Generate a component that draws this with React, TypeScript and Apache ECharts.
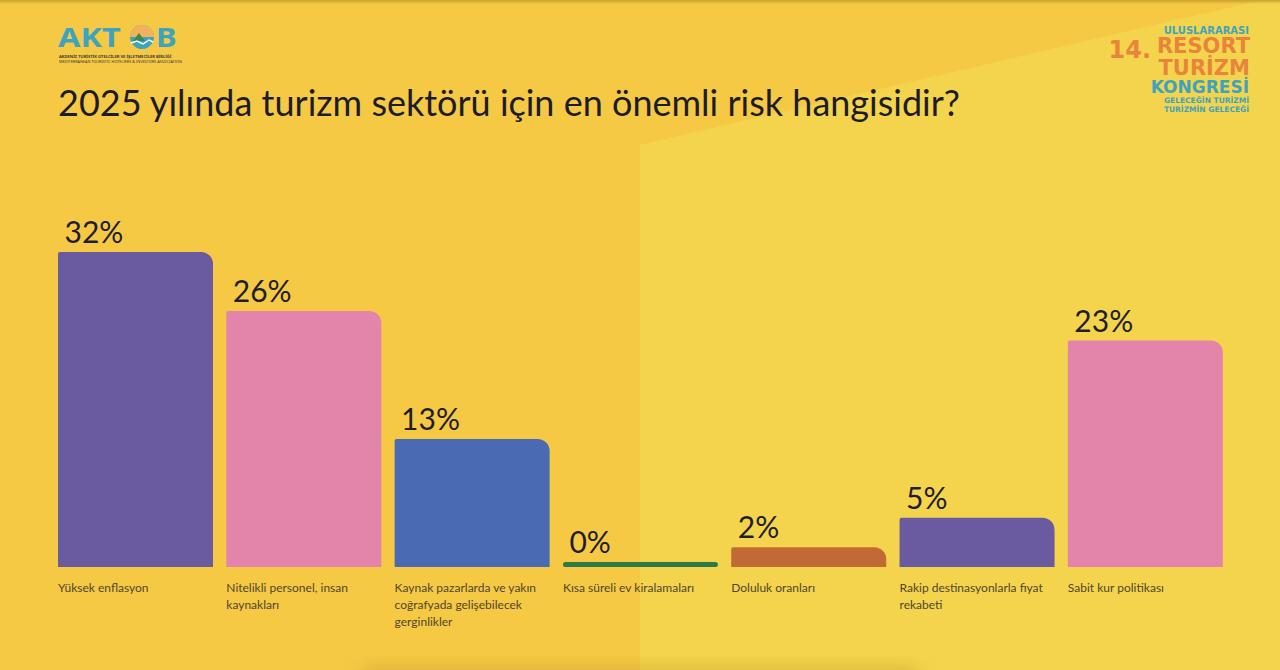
import React, { useEffect, useRef } from "react";
import * as echarts from "echarts";

const title = "2025 yılında turizm sektörü için en önemli risk hangisidir?";
const categories = [
  "Yüksek enflasyon",
  "Nitelikli personel, insan\nkaynakları",
  "Kaynak pazarlarda ve yakın\ncoğrafyada gelişebilecek\ngerginlikler",
  "Kısa süreli ev kiralamaları",
  "Doluluk oranları",
  "Rakip destinasyonlarla fiyat\nrekabeti",
  "Sabit kur politikası",
];
const values = [32, 26, 13, 0, 2, 5, 23];
const barColors = ["#6A5A9F", "#E385AA", "#4A6BB4", "#2E7A47", "#C26A35", "#6A5A9F", "#E385AA"];

const TEAL = "#3EA3BE";
const ORANGE = "#E8843B";
const SANS = "'DejaVu Sans', sans-serif";

export default function App() {
  const ref = useRef<HTMLDivElement>(null);
  useEffect(() => {
    if (!ref.current) return;
    const chart = echarts.init(ref.current, null, { renderer: "svg" });
    const logoText = (text: string, x: number, cy: number, fontSize: number, fill: string, align = "right") => ({
      type: "text",
      x,
      y: cy,
      style: {
        text,
        align,
        verticalAlign: "middle",
        fontSize,
        lineHeight: fontSize * 0.8,
        fontWeight: "bold",
        fill,
        fontFamily: SANS,
      },
    });
    const option: any = {
      animation: false,
      backgroundColor: "#F5C944",
      grid: { left: 51.35, right: 50.5, top: 252, bottom: 103, containLabel: false },
      xAxis: {
        type: "category",
        data: categories,
        axisLine: { show: false },
        axisTick: { show: false },
        axisLabel: {
          interval: 0,
          margin: 12,
          formatter: (v: string) => v.split("\n").map((l) => `{a|${l}}`).join("\n"),
          rich: {
            a: {
              width: 155,
              align: "left",
              fontSize: 12,
              lineHeight: 17,
              color: "#4F4630",
              fontFamily: "Lato, 'Noto Sans', sans-serif",
            },
          },
        },
      },
      yAxis: { type: "value", min: 0, max: 32, show: false, splitLine: { show: false } },
      series: [
        {
          type: "bar",
          silent: true,
          barWidth: 155,
          barMinHeight: 5,
          data: values.map((v, i) => ({
            value: v,
            itemStyle: {
              color: barColors[i],
              borderRadius: v === 0 ? 3 : [2, 12, 0, 0],
            },
          })),
          label: {
            show: true,
            position: "top",
            align: "left",
            offset: [-71, 0],
            distance: 6,
            formatter: "{c}%",
            fontSize: 30,
            color: "#1E1E2E",
            fontFamily: "Lato, 'Noto Sans', sans-serif",
          },
        },
      ],
      graphic: [
        {
          type: "polygon",
          z: -10,
          silent: true,
          shape: { points: [[640, 145], [1262, 0], [1280, 0], [1280, 670], [640, 670]] },
          style: { fill: "#F4D44C" },
        },
        {
          type: "rect",
          z: -9,
          silent: true,
          shape: { x: 0, y: 0, width: 1280, height: 4 },
          style: {
            fill: new echarts.graphic.LinearGradient(0, 0, 0, 1, [
              { offset: 0, color: "rgba(190,150,40,0.8)" },
              { offset: 1, color: "rgba(190,150,40,0)" },
            ]),
          },
        },
        {
          type: "rect",
          z: -9,
          silent: true,
          shape: { x: 360, y: 676, width: 560, height: 20, r: 10 },
          style: {
            fill: "rgba(170,130,40,0.6)",
            shadowBlur: 18,
            shadowColor: "rgba(160,120,30,0.55)",
            shadowOffsetY: -8,
          },
        },
        {
          type: "text",
          left: 58,
          top: 84,
          style: {
            text: title,
            fontSize: 36,
            fill: "#1C1C2C",
            fontFamily: "Lato, 'Noto Sans', sans-serif",
          },
        },
        // AKTOB logo
        {
          type: "text",
          x: 58,
          y: 37,
          scaleX: 1.2,
          style: {
            text: "AKT",
            verticalAlign: "middle",
            lineHeight: 20,
            fontSize: 27,
            fontWeight: "bold",
            fill: TEAL,
            fontFamily: "'Noto Sans', sans-serif",
          },
        },
        { type: "circle", shape: { cx: 142, cy: 37, r: 12 }, style: { fill: TEAL } },
        {
          type: "sector",
          shape: { cx: 142, cy: 37, r: 12, startAngle: Math.PI, endAngle: Math.PI * 2 },
          style: { fill: "#F2B25A" },
        },
        { type: "polygon", shape: { points: [[133, 41], [139, 33], [145, 41]] }, style: { fill: "#3C8A4A" } },
        {
          type: "polyline",
          shape: { points: [[131, 43], [137, 41], [143, 44], [149, 40], [153, 42]] },
          style: { stroke: "#FFFFFF", lineWidth: 1.5, fill: null },
        },
        {
          type: "text",
          x: 156,
          y: 37,
          scaleX: 1.15,
          style: {
            text: "B",
            verticalAlign: "middle",
            lineHeight: 20,
            fontSize: 27,
            fontWeight: "bold",
            fill: TEAL,
            fontFamily: "'Noto Sans', sans-serif",
          },
        },
        {
          type: "text",
          x: 59,
          y: 56,
          style: {
            text: "AKDENİZ TURİSTİK OTELCİLER VE İŞLETMECİLER BİRLİĞİ",
            verticalAlign: "middle",
            lineHeight: 4,
            fontSize: 4.1,
            fontWeight: "bold",
            fill: "#3A3A3A",
            fontFamily: "'Noto Sans', sans-serif",
          },
        },
        {
          type: "text",
          x: 59,
          y: 61,
          style: {
            text: "MEDITERRANEAN TOURISTIC HOTELIERS & INVESTORS ASSOCIATION",
            verticalAlign: "middle",
            lineHeight: 4,
            fontSize: 3.8,
            fill: "#3A3A3A",
            fontFamily: "'Noto Sans', sans-serif",
          },
        },
        // Resort logo
        logoText("ULUSLARARASI", 1249, 30, 10, TEAL),
        logoText("14.", 1151, 50, 24, ORANGE),
        logoText("RESORT", 1250, 46, 21, ORANGE),
        logoText("TURİZM", 1250, 67.5, 21, ORANGE),
        logoText("KONGRESİ", 1249, 87, 17, TEAL),
        logoText("GELECEĞİN TURİZMİ", 1249, 100.5, 7.5, TEAL),
        logoText("TURİZMİN GELECEĞİ", 1249, 109.5, 7.5, TEAL),
      ],
    };
    chart.setOption(option);
    return () => chart.dispose();
  }, []);
  return (
    <div
      ref={ref}
      style={{ position: "absolute", left: 0, top: 0, width: 1280, height: 670 }}
    />
  );
}
